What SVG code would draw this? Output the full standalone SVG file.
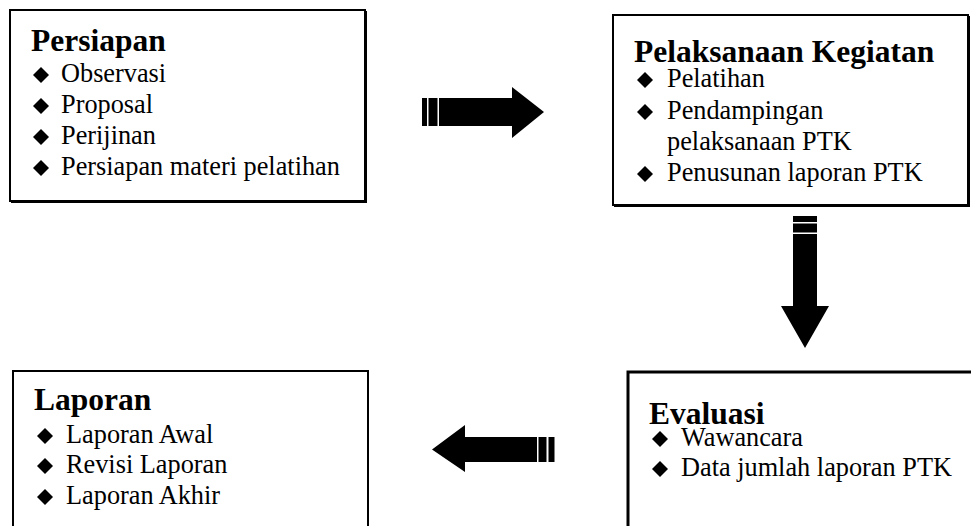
<svg xmlns="http://www.w3.org/2000/svg" xmlns:xlink="http://www.w3.org/1999/xlink" width="971" height="526" viewBox="0 0 971 526">
<style>
.box{fill:#fff;stroke:#000;stroke-width:2}
.sh{fill:none;stroke:#000;stroke-width:2}
.t{font-family:"Liberation Serif","Times New Roman",serif;font-weight:bold;font-size:31.5px;fill:#000}
.i{font-family:"Liberation Serif","Times New Roman",serif;font-size:26.3px;fill:#000}
.ar{fill:#000}
</style>
<defs>
<polygon id="d" points="0,-8 8,0 0,8 -8,0" fill="#000"/>
</defs>
<rect width="971" height="526" fill="#fff"/>
<g id="persiapan">
<rect class="box" x="10" y="10" width="355" height="191"/>
<path class="sh" d="M11,202 H366 V11"/>
<text class="t" x="31" y="51">Persiapan</text>
<use xlink:href="#d" x="41" y="75"/><text class="i" x="61" y="82">Observasi</text>
<use xlink:href="#d" x="41" y="106"/><text class="i" x="61" y="113">Proposal</text>
<use xlink:href="#d" x="41" y="137"/><text class="i" x="61" y="144">Perijinan</text>
<use xlink:href="#d" x="41" y="168"/><text class="i" x="61" y="175">Persiapan materi pelatihan</text>
</g>
<g id="pelaksanaan">
<rect class="box" x="613" y="15" width="355" height="190"/>
<path class="sh" d="M614,206 H969 V16"/>
<text class="t" x="634" y="62">Pelaksanaan Kegiatan</text>
<use xlink:href="#d" x="645" y="80"/><text class="i" x="667" y="87">Pelatihan</text>
<use xlink:href="#d" x="645" y="112"/><text class="i" x="667" y="119">Pendampingan</text>
<text class="i" x="667" y="150">pelaksanaan PTK</text>
<use xlink:href="#d" x="645" y="174"/><text class="i" x="667" y="181">Penusunan laporan PTK</text>
</g>
<g id="laporan">
<rect class="box" x="13" y="371" width="355" height="170"/>
<text class="t" x="34" y="410">Laporan</text>
<use xlink:href="#d" x="45" y="436"/><text class="i" x="66" y="443">Laporan Awal</text>
<use xlink:href="#d" x="45" y="466"/><text class="i" x="66" y="473">Revisi Laporan</text>
<use xlink:href="#d" x="45" y="497"/><text class="i" x="66" y="504">Laporan Akhir</text>
</g>
<g id="evaluasi">
<rect class="box" x="628" y="372" width="400" height="200" style="stroke-width:3"/>
<text class="t" x="649" y="424">Evaluasi</text>
<use xlink:href="#d" x="660" y="439"/><text class="i" x="681" y="446">Wawancara</text>
<use xlink:href="#d" x="660" y="469"/><text class="i" x="681" y="476">Data jumlah laporan PTK</text>
</g>
<g id="connectors">
<g class="ar">
<rect x="422" y="98" width="5" height="28"/>
<rect x="428.5" y="98" width="9" height="28"/>
<polygon points="439,98 512,98 512,87 544,112 512,138 512,126 439,126"/>
</g>
<g class="ar">
<rect x="793" y="216" width="24" height="6"/>
<rect x="793" y="223.5" width="24" height="9"/>
<polygon points="793,234 817,234 817,306 829,306 805,348 781,306 793,306"/>
</g>
<g class="ar">
<rect x="548.5" y="437" width="6" height="25"/>
<rect x="538.5" y="437" width="8" height="25"/>
<polygon points="537,437 465,437 465,425 432,449.5 465,472 465,462 537,462"/>
</g>
</g>
</svg>
